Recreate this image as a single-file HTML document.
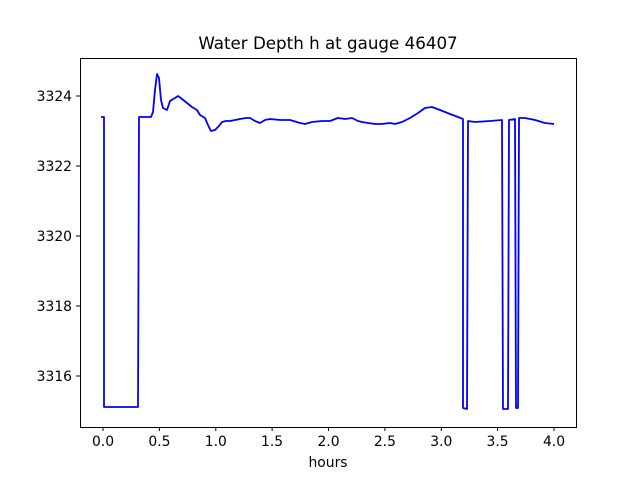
<!DOCTYPE html>
<html><head><style>body{margin:0;background:#fff}svg text{font-family:"DejaVu Sans","Liberation Sans",sans-serif}</style></head><body>
<svg width="640" height="480" xmlns="http://www.w3.org/2000/svg">
<rect width="640" height="480" fill="#fff"/>
<text x="328" y="49" font-size="16.7" text-anchor="middle">Water Depth h at gauge 46407</text>
<polyline fill="none" stroke="#0000ff" stroke-width="1.8" stroke-linejoin="round" points="101,117 104,117 104,407 138,407 139,117 151,117 153,112 155,90 157,74 159,78 161,100 163,108 167,110 170,101 175,98 178,96 182,99 187,103 192,107 197,110 200,115 205,118 208,125 211,131 215,130 219,126 222,122 226,121 230,121 235,120 240,119 246,118 250,118 255,121 260,123 265,120 270,119 280,120 290,120 300,123 305,124 312,122 322,121 330,121 338,118 345,119 352,118 358,121 362,122 368,123 375,124 382,124 390,123 395,124 402,122 410,118 418,113 425,108 432,107 440,110 450,114 458,117 463,119 463,408 467,409 468,121 475,122 490,121 502,120 503,409 508,409 509,120 515,119 516,408 518,408 519,118 525,118 535,120 545,123 554,124"/>
<rect x="80.5" y="58.5" width="496" height="369" fill="none" stroke="#000" stroke-width="1"/>
<g stroke="#000" stroke-width="1">
<line x1="103" y1="427" x2="103" y2="431"/><line x1="159.4" y1="427" x2="159.4" y2="431"/><line x1="215.8" y1="427" x2="215.8" y2="431"/><line x1="272.1" y1="427" x2="272.1" y2="431"/><line x1="328.5" y1="427" x2="328.5" y2="431"/><line x1="384.9" y1="427" x2="384.9" y2="431"/><line x1="441.3" y1="427" x2="441.3" y2="431"/><line x1="497.6" y1="427" x2="497.6" y2="431"/><line x1="554" y1="427" x2="554" y2="431"/>
<line x1="76" y1="96" x2="80" y2="96"/><line x1="76" y1="166" x2="80" y2="166"/><line x1="76" y1="236" x2="80" y2="236"/><line x1="76" y1="306" x2="80" y2="306"/><line x1="76" y1="376" x2="80" y2="376"/>
</g>
<g font-size="13.9" text-anchor="middle">
<text x="103" y="446">0.0</text><text x="159.4" y="446">0.5</text><text x="215.8" y="446">1.0</text><text x="272.1" y="446">1.5</text><text x="328.5" y="446">2.0</text><text x="384.9" y="446">2.5</text><text x="441.3" y="446">3.0</text><text x="497.6" y="446">3.5</text><text x="554" y="446">4.0</text>
<text x="328" y="467">hours</text>
</g>
<g font-size="13.9" text-anchor="end">
<text x="72" y="101">3324</text><text x="72" y="171">3322</text><text x="72" y="241">3320</text><text x="72" y="311">3318</text><text x="72" y="381">3316</text>
</g>
</svg>
</body></html>
